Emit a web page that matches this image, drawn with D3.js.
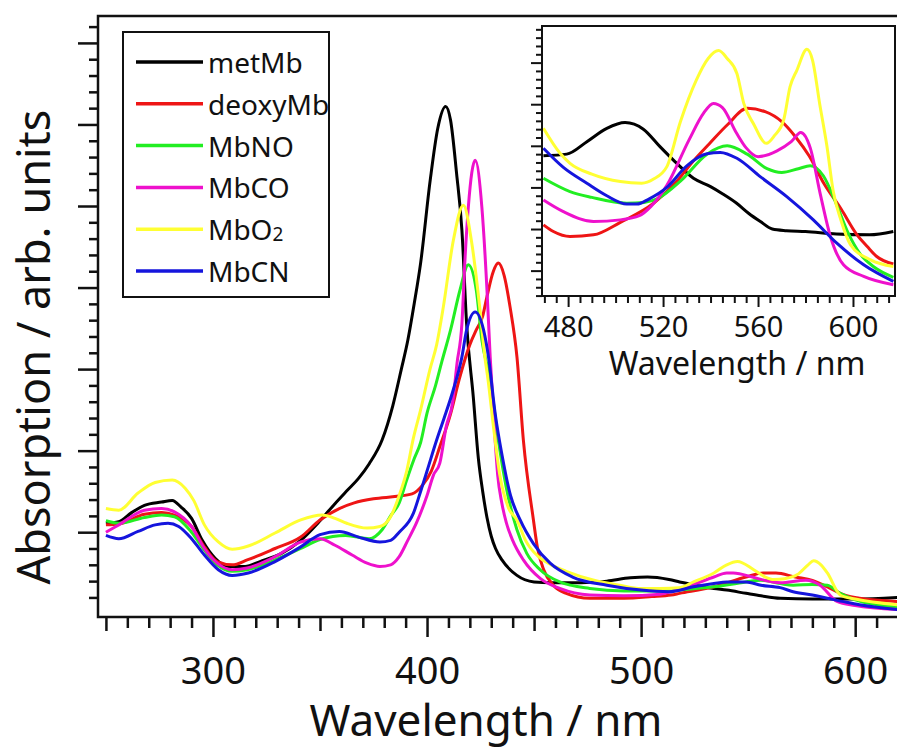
<!DOCTYPE html>
<html>
<head>
<meta charset="utf-8">
<script src="https://cdn.jsdelivr.net/npm/d3@7"></script>
<style>
  body { margin: 0; background: #fff; }
  svg { display: block; }
  text { font-family: "Noto Sans", "Open Sans", sans-serif; fill: #111; }
</style>
</head>
<body>
<div id="chart"></div>
<script>
// series names + colours, in legend order
const names = ["metMb", "deoxyMb", "MbNO", "MbCO", "MbO2", "MbCN"]
const colors = ["#000000", "#ee1515", "#22ee22", "#ee11cc", "#ffff33", "#1515dd"]

// main spectra: [wavelength nm, absorption arb. units]
const metMb = [[250,1.11],[256,1.13],[262,1.24],[268,1.33],[276,1.37],[281,1.39],[285,1.31],[290,1.17],[295,0.90],[301,0.68],[307,0.58],[315,0.58],[322,0.64],[332,0.74],[341,0.90],[350,1.14],[357,1.35],[363,1.52],[368,1.66],[373,1.84],[379,2.13],[384,2.55],[388,3.00],[391,3.35],[394,3.80],[397,4.30],[401.5,5.32],[405,5.95],[408.7,6.22],[411,6.05],[413.8,5.40],[416.3,4.70],[418.5,3.55],[421.6,2.66],[424,1.90],[426,1.50],[428,1.18],[430,0.95],[432,0.80],[435,0.66],[442,0.47],[450,0.39],[458,0.38],[472,0.38],[484,0.40],[495,0.44],[503,0.45],[513,0.42],[518,0.39],[525,0.35],[534,0.31],[540,0.29],[549,0.25],[556,0.22],[565,0.19],[580,0.18],[600,0.18],[620,0.20]]
const deoxyMb = [[250,1.09],[256,1.10],[268,1.22],[276,1.24],[282,1.21],[290,1.07],[296,0.82],[302,0.64],[309,0.60],[316,0.66],[329,0.80],[341,0.94],[350,1.15],[359,1.29],[366,1.36],[375,1.41],[386,1.44],[393,1.47],[398,1.58],[402,1.75],[406,2.05],[411,2.45],[415,2.87],[420,3.30],[423,3.48],[426,3.65],[428,3.89],[431,4.20],[433.3,4.30],[436,4.15],[438.8,3.76],[442,3.15],[445,2.13],[449.7,1.15],[451.5,0.82],[454.5,0.54],[459,0.35],[465,0.25],[476,0.19],[492,0.19],[505,0.21],[514,0.23],[518,0.25],[534,0.33],[549,0.45],[557,0.50],[563,0.50],[572,0.45],[580,0.41],[587,0.33],[596,0.22],[602,0.19],[620,0.15]]
const MbNO = [[250,1.14],[256,1.11],[268,1.18],[276,1.21],[282,1.19],[290,1.00],[296,0.78],[302,0.60],[309,0.52],[316,0.54],[329,0.66],[341,0.80],[350,0.91],[362,0.96],[373,0.92],[379,1.03],[383,1.20],[387,1.36],[390.5,1.64],[394,1.90],[397,2.10],[400,2.46],[404,2.80],[407,3.10],[411,3.48],[415.4,3.97],[419.3,4.28],[423,3.97],[425.6,3.36],[429.5,2.87],[433.3,2.13],[437,1.55],[442,1.03],[446.6,0.74],[452.8,0.54],[462,0.39],[476,0.31],[492,0.28],[514,0.28],[518,0.29],[534,0.33],[549,0.39],[556,0.41],[565,0.37],[571,0.35],[580,0.36],[587,0.35],[593,0.25],[600,0.17],[620,0.08]]
const MbCO = [[250,1.00],[256,1.09],[268,1.27],[276,1.29],[282,1.25],[290,1.07],[296,0.80],[302,0.62],[309,0.54],[316,0.56],[329,0.70],[341,0.88],[350,0.92],[357,0.84],[365,0.72],[372,0.62],[378,0.58],[383,0.60],[387,0.70],[391,0.90],[395,1.11],[400,1.45],[403,1.70],[406,1.85],[409,2.30],[412,2.60],[414,3.07],[416.3,3.56],[417.8,4.38],[419.3,4.99],[422.5,5.56],[425.6,4.99],[428,3.97],[429.5,3.15],[431.8,2.13],[433,1.70],[435,1.35],[437,1.12],[440,0.90],[445,0.66],[453,0.43],[462,0.31],[476,0.23],[492,0.22],[509,0.24],[514,0.27],[524.5,0.36],[534,0.45],[540,0.50],[543,0.50],[552,0.45],[556,0.42],[565,0.38],[577,0.41],[583.6,0.35],[591.5,0.15],[600,0.10],[620,0.05]]
const MbO2 = [[250,1.29],[256,1.27],[265,1.48],[273,1.61],[281,1.64],[287,1.54],[291,1.39],[296,1.09],[302.5,0.88],[309,0.79],[316.5,0.83],[329,0.99],[341,1.15],[351,1.21],[357,1.17],[362.5,1.11],[372,1.05],[378,1.07],[383,1.19],[387,1.45],[390.5,1.75],[393.6,2.15],[397,2.50],[401.4,3.00],[404.5,3.30],[407.6,3.76],[412.3,4.58],[417,5.01],[420.7,4.58],[424.6,3.76],[427,3.15],[428.5,2.87],[431,2.30],[434,1.70],[438,1.30],[442,1.15],[446,0.90],[452,0.70],[458,0.60],[465,0.52],[478,0.41],[490,0.35],[500,0.31],[509,0.31],[518,0.32],[524.5,0.39],[534,0.50],[540,0.60],[545,0.64],[552.6,0.54],[558,0.45],[562,0.42],[567,0.43],[573,0.48],[578,0.60],[580.6,0.65],[584,0.60],[587,0.50],[593,0.23],[600,0.18],[620,0.11]]
const MbCN = [[250,0.96],[256,0.92],[265,1.01],[273,1.09],[279,1.11],[284,1.07],[290,0.92],[296,0.72],[302.5,0.54],[309,0.47],[316.5,0.50],[329,0.64],[341,0.82],[350,0.97],[359,1.01],[368,0.94],[378,0.88],[383,0.90],[387,1.00],[393.6,1.23],[397,1.50],[400,1.75],[404.5,2.13],[408,2.40],[412.3,2.75],[416.3,3.15],[418.5,3.48],[422.5,3.70],[426.4,3.48],[428.7,3.15],[431.8,2.46],[435,1.95],[439,1.45],[443.5,1.15],[449.7,0.86],[457.5,0.62],[468,0.45],[484,0.35],[500,0.29],[513,0.27],[524.5,0.33],[534,0.37],[540,0.39],[549,0.39],[556,0.35],[565,0.32],[571,0.27],[580,0.23],[587,0.19],[596,0.14],[602,0.11],[620,0.05]]

// inset (Q-band) spectra, own arbitrary scale
const metMbQ = [[469.6,3.76],[479.4,3.80],[487.9,4.10],[496.3,4.42],[504,4.56],[511.7,4.40],[518.7,3.98],[525,3.62],[532.8,3.22],[540,3.02],[545,2.85],[551,2.62],[556,2.38],[561,2.18],[566,2.00],[572,1.96],[580,1.94],[593,1.88],[607,1.86],[617,1.94]]
const deoxyMbQ = [[469.6,2.10],[473.8,1.94],[480.8,1.82],[490.7,1.86],[502,2.16],[516,2.62],[526,3.16],[533,3.65],[539.5,4.05],[547,4.50],[555.5,4.90],[563,4.82],[570,4.58],[576,4.20],[581.5,3.76],[587.7,3.10],[595,2.48],[601.7,1.86],[606,1.58],[610,1.34],[617,1.16]]
const MbNOQ = [[469.6,3.22],[480.8,2.90],[490,2.76],[504.7,2.62],[512,2.64],[518,2.74],[527.3,3.15],[538.5,3.80],[547,4.00],[555.4,3.80],[563.8,3.45],[570,3.36],[577,3.45],[582,3.52],[587.5,3.28],[593,2.60],[598,1.90],[603,1.40],[609,1.08],[617,0.84]]
const MbCOQ = [[469.6,2.70],[478,2.42],[490.7,2.18],[502,2.22],[510,2.32],[515,2.55],[521.6,3.05],[531,4.15],[537,4.78],[541.2,5.02],[545,4.92],[551,4.30],[555,3.95],[560,3.74],[568,3.88],[574,4.10],[578,4.32],[582,3.95],[586.3,2.82],[590.5,1.82],[596,1.14],[604.5,0.86],[617,0.66]]
const MbO2Q = [[469.6,4.42],[476.6,3.82],[480.8,3.58],[490,3.32],[502,3.14],[511,3.10],[516,3.20],[521.6,3.50],[527.3,4.58],[534,5.58],[539,6.10],[543.4,6.29],[547,6.10],[551.1,5.74],[554,5.02],[558.2,4.52],[563.5,4.06],[567,4.25],[570.8,4.62],[573.5,5.42],[576.4,5.82],[580.6,6.32],[583,6.05],[586,5.00],[589,4.00],[591.7,2.90],[595,2.20],[599,1.62],[607.4,1.26],[617,1.10]]
const MbCNQ = [[469.6,3.94],[478,3.48],[487.9,3.10],[496.3,2.80],[504.7,2.60],[509,2.60],[514,2.72],[521.6,3.00],[530,3.52],[538.5,3.81],[544.1,3.84],[551.1,3.70],[560.9,3.26],[572.1,2.78],[583.3,2.22],[593.2,1.66],[604.5,1.14],[617,0.74]]

const mainSeries = [metMb, deoxyMb, MbNO, MbCO, MbO2, MbCN]
const insetSeries = [metMbQ, deoxyMbQ, MbNOQ, MbCOQ, MbO2Q, MbCNQ]

const xTickLabels = [300, 400, 500, 600]
const insetTickLabels = [480, 520, 560, 600]

const WIDTH = 897, HEIGHT = 751

const svg = d3.select("#chart").append("svg")
    .attr("width", WIDTH).attr("height", HEIGHT)

// ---- main plot ----
const x = d3.scaleLinear().domain([246.3, 620]).range([98, 898])
const y = d3.scaleLinear().domain([-0.04, 7.33]).range([617, 16])

const line = d3.line()
    .x(d => x(d[0])).y(d => y(d[1]))
    .curve(d3.curveMonotoneX)

svg.append("g").selectAll("path")
    .data(mainSeries)
    .join("path")
    .attr("d", line)
    .attr("fill", "none")
    .attr("stroke", (d, i) => colors[i])
    .attr("stroke-width", 3)
    .attr("stroke-linejoin", "round")

// x axis: minor every 10, medium every 50, major every 100
const xAxis = svg.append("g")
    .attr("transform", "translate(0,617)")
    .call(d3.axisBottom(x)
        .tickValues(d3.range(250, 621, 10))
        .tickSizeOuter(0)
        .tickPadding(34)
        .tickFormat(d => xTickLabels.includes(d) ? d : ""))
xAxis.select(".domain").remove()
xAxis.selectAll(".tick line")
    .attr("stroke", "#111").attr("stroke-width", 2.5)
    .attr("y2", d => d % 100 === 0 ? 20 : d % 50 === 0 ? 14 : 11)
xAxis.selectAll(".tick text")
    .attr("font-size", 38).attr("font-family", "Noto Sans").attr("fill", "#111")

// y axis, no labels
const yVals = d3.range(1, 37).map(i => +(i * 0.2).toFixed(1))
const yAxis = svg.append("g")
    .attr("transform", "translate(98,0)")
    .call(d3.axisLeft(y).tickValues(yVals).tickSizeOuter(0).tickFormat(""))
yAxis.select(".domain").remove()
yAxis.selectAll(".tick line")
    .attr("stroke", "#111").attr("stroke-width", 2.5)
    .attr("x2", d => Math.abs(d - Math.round(d)) < 1e-6 ? -20 : -9)

// frame (right side runs off the picture)
svg.append("path")
    .attr("d", `M910,16H98V617H910`)
    .attr("fill", "none").attr("stroke", "#111").attr("stroke-width", 2.5)

svg.append("text")
    .attr("x", 486).attr("y", 736)
    .attr("text-anchor", "middle").attr("font-size", 44)
    .text("Wavelength / nm")

svg.append("text")
    .attr("transform", "translate(50,347) rotate(-90)")
    .attr("text-anchor", "middle").attr("font-size", 45)
    .text("Absorption / arb. units")

// ---- legend ----
const legend = svg.append("g")
legend.append("rect")
    .attr("x", 123).attr("y", 32).attr("width", 206).attr("height", 265)
    .attr("fill", "#fff").attr("stroke", "#111").attr("stroke-width", 2)
const rows = legend.selectAll("g.row").data(names).join("g")
    .attr("class", "row")
    .attr("transform", (d, i) => `translate(0,${62 + i * 41.8})`)
rows.append("line")
    .attr("x1", 136).attr("x2", 203)
    .attr("stroke", (d, i) => colors[i]).attr("stroke-width", 3.5)
rows.append("text")
    .attr("x", 208).attr("y", 11).attr("font-size", 28)
    .each(function (d) {
        const t = d3.select(this)
        if (d === "MbO2") {
            t.append("tspan").text("MbO")
            t.append("tspan").attr("font-size", 19).attr("dy", 1).text("2")
        } else t.text(d)
    })

// ---- inset ----
const ix = d3.scaleLinear().domain([469, 617.7]).range([542, 895])
const iy = d3.scaleLinear().domain([0.39, 6.88]).range([296, 26])

const inset = svg.append("g")
inset.append("rect")
    .attr("x", 542).attr("y", 26).attr("width", 353).attr("height", 270)
    .attr("fill", "#fff")

const iline = d3.line()
    .x(d => ix(d[0])).y(d => iy(d[1]))
    .curve(d3.curveMonotoneX)

inset.append("g").selectAll("path")
    .data(insetSeries)
    .join("path")
    .attr("d", iline)
    .attr("fill", "none")
    .attr("stroke", (d, i) => colors[i])
    .attr("stroke-width", 3)

const ixAxis = inset.append("g")
    .attr("transform", "translate(0,296)")
    .call(d3.axisBottom(ix)
        .tickValues(d3.range(470, 616, 5))
        .tickSizeOuter(0)
        .tickPadding(14)
        .tickFormat(d => insetTickLabels.includes(d) ? d : ""))
ixAxis.select(".domain").remove()
ixAxis.selectAll(".tick line")
    .attr("stroke", "#111").attr("stroke-width", 2)
    .attr("y2", d => d % 40 === 0 ? 11 : 7)
ixAxis.selectAll(".tick text")
    .attr("font-size", 29).attr("font-family", "Noto Sans").attr("fill", "#111")

const iyVals = d3.range(0, 34).map(i => +(0.4 + i * 0.2).toFixed(1)).filter(v => v < 6.85)
const iyAxis = inset.append("g")
    .attr("transform", "translate(542,0)")
    .call(d3.axisLeft(iy).tickValues(iyVals).tickSizeOuter(0).tickFormat(""))
iyAxis.select(".domain").remove()
iyAxis.selectAll(".tick line")
    .attr("stroke", "#111").attr("stroke-width", 2)
    .attr("x2", d => Math.abs(d - Math.round(d)) < 1e-6 ? -11 : -6)

inset.append("rect")
    .attr("x", 542).attr("y", 26).attr("width", 353).attr("height", 270)
    .attr("fill", "none").attr("stroke", "#111").attr("stroke-width", 2)

inset.append("text")
    .attr("x", 737).attr("y", 375)
    .attr("text-anchor", "middle").attr("font-size", 32)
    .text("Wavelength / nm")
</script>
</body>
</html>
